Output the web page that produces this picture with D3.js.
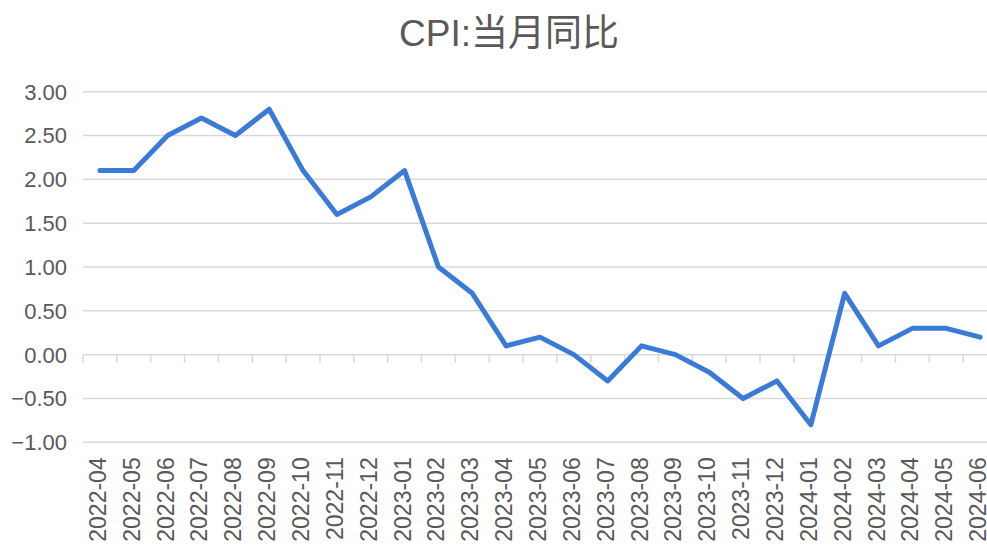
<!DOCTYPE html>
<html>
<head>
<meta charset="utf-8">
<script src="https://cdn.jsdelivr.net/npm/d3@7"></script>
<style>
  body { margin: 0; background: #fff; }
  svg { display: block; font-family: "Liberation Sans", Arial, sans-serif; }
</style>
</head>
<body>
<div id="chart"></div>
<script>
// CPI 当月同比, monthly
var months = ["2022-04", "2022-05", "2022-06", "2022-07", "2022-08", "2022-09",
    "2022-10", "2022-11", "2022-12", "2023-01", "2023-02", "2023-03",
    "2023-04", "2023-05", "2023-06", "2023-07", "2023-08", "2023-09",
    "2023-10", "2023-11", "2023-12", "2024-01", "2024-02", "2024-03",
    "2024-04", "2024-05", "2024-06"];
var cpiYoY = [2.1, 2.1, 2.5, 2.7, 2.5, 2.8, 2.1, 1.6, 1.8, 2.1, 1.0, 0.7,
    0.1, 0.2, 0.0, -0.3, 0.1, 0.0, -0.2, -0.5, -0.3, -0.8, 0.7, 0.1,
    0.3, 0.3, 0.2];
var yTicks = [-1, -0.5, 0, 0.5, 1, 1.5, 2, 2.5, 3];
var title = "CPI:当月同比";

var width = 987, height = 548;
var plot = {left: 83, right: 997, top: 91.7, bottom: 442.3};
var textColor = "#595959", gridColor = "#d9d9d9", lineColor = "#3a7bd7";

var svg = d3.select("#chart").append("svg")
    .attr("width", width)
    .attr("height", height);

var x = d3.scaleBand()
    .domain(months)
    .range([plot.left, plot.right])
    .padding(0);

var y = d3.scaleLinear()
    .domain([-1, 3])
    .range([plot.bottom, plot.top]);

// horizontal gridlines
svg.append("g")
    .attr("class", "grid")
    .selectAll("line")
    .data(yTicks)
    .enter().append("line")
    .attr("x1", plot.left)
    .attr("x2", plot.right)
    .attr("y1", function(d) { return y(d); })
    .attr("y2", function(d) { return y(d); })
    .attr("stroke", gridColor)
    .attr("stroke-width", 1.5);

// y labels
svg.append("g")
    .attr("class", "axis axis--y")
    .selectAll("text")
    .data(yTicks)
    .enter().append("text")
    .attr("x", 67)
    .attr("y", function(d) { return y(d); })
    .attr("dy", "0.36em")
    .attr("text-anchor", "end")
    .attr("fill", textColor)
    .style("font-size", "22px")
    .text(function(d) { return d3.format(".2f")(d); });

// category ticks hang below the zero line
var bounds = months.map(function(m) { return x(m); }).concat([x(months[months.length - 1]) + x.bandwidth()]);
svg.append("g")
    .attr("class", "axis axis--x")
    .selectAll("line")
    .data(bounds)
    .enter().append("line")
    .attr("x1", function(d) { return d; })
    .attr("x2", function(d) { return d; })
    .attr("y1", y(0))
    .attr("y2", y(0) + 8)
    .attr("stroke", gridColor)
    .attr("stroke-width", 1.5);

// x labels, rotated, under the plot area
svg.append("g")
    .attr("class", "labels")
    .selectAll("text")
    .data(months)
    .enter().append("text")
    .attr("transform", function(d) {
        return "translate(" + (x(d) + x.bandwidth() / 2 + 6) + "," + (plot.bottom + 15) + ") rotate(-90)";
    })
    .attr("text-anchor", "end")
    .attr("fill", textColor)
    .style("font-size", "23px")
    .text(function(d) { return d; });

// the series
var line = d3.line()
    .x(function(d, i) { return x(months[i]) + x.bandwidth() / 2; })
    .y(function(d) { return y(d); });

svg.append("path")
    .datum(cpiYoY)
    .attr("d", line)
    .attr("fill", "none")
    .attr("stroke", lineColor)
    .attr("stroke-width", 5)
    .attr("stroke-linejoin", "round")
    .attr("stroke-linecap", "round");

// title
svg.append("text")
    .attr("x", 509)
    .attr("y", 46)
    .attr("text-anchor", "middle")
    .attr("fill", textColor)
    .style("font-family", "'Liberation Sans', 'Noto Sans CJK SC', sans-serif")
    .style("font-size", "37px")
    .text(title);
</script>
</body>
</html>
